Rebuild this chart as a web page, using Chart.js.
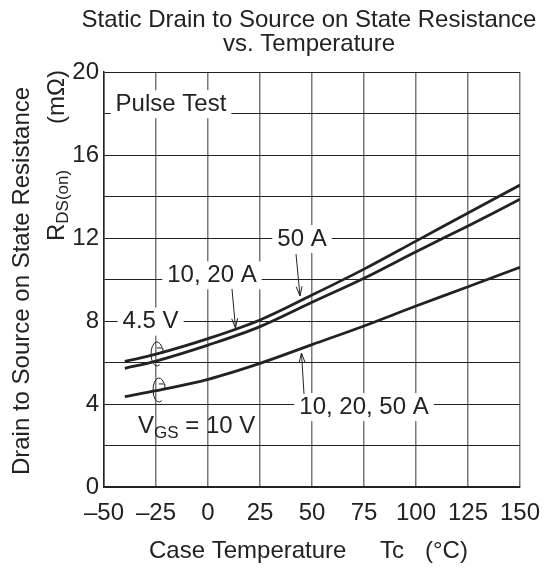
<!DOCTYPE html>
<html>
<head>
<meta charset="utf-8">
<script src="https://cdn.jsdelivr.net/npm/chart.js@4.4.0/dist/chart.umd.min.js"></script>
<style>
  html, body { margin: 0; padding: 0; background: #fff; }
  #wrap { width: 544px; height: 570px; }
</style>
</head>
<body>
<div id="wrap"><canvas id="rdsChart" width="544" height="570"></canvas></div>
<script>
// case temperature (°C) where values were read
var temps = [-40, -25, 0, 25, 50, 75, 100, 125, 150];
// RDS(on) in mOhm
var vgs45_50A = [6.05, 6.4, 7.15, 8.05, 9.25, 10.5, 11.85, 13.2, 14.55];
var vgs45_1020A = [5.72, 6.07, 6.84, 7.73, 8.9, 10.06, 11.34, 12.58, 13.87];
var vgs10_all = [4.35, 4.64, 5.19, 5.96, 6.86, 7.76, 8.72, 9.65, 10.59];

var xTicks = [-50, -25, 0, 25, 50, 75, 100, 125, 150];
var yTicks = [0, 4, 8, 12, 16, 20];

var FONT = '"Liberation Sans", Arial, sans-serif';
var INK = '#222';

function pts(ys) {
  return temps.map(function (t, i) { return { x: t, y: ys[i] }; });
}

function lineSet(ys) {
  return {
    data: pts(ys),
    borderColor: INK,
    borderWidth: 2.8,
    pointRadius: 0,
    fill: false,
    tension: 0.35
  };
}

// label with white box over the grid
function boxLabel(ctx, text, cx, cy) {
  ctx.font = '24px ' + FONT;
  var w = ctx.measureText(text).width;
  ctx.fillStyle = '#fff';
  ctx.fillRect(cx - w / 2 - 5, cy - 14, w + 10, 28);
  ctx.fillStyle = INK;
  ctx.textAlign = 'center';
  ctx.textBaseline = 'middle';
  ctx.fillText(text, cx, cy);
}

function arrow(ctx, x1, y1, x2, y2) {
  ctx.strokeStyle = INK;
  ctx.lineWidth = 1;
  ctx.beginPath();
  ctx.moveTo(x1, y1);
  ctx.lineTo(x2, y2);
  var a = Math.atan2(y2 - y1, x2 - x1);
  ctx.moveTo(x2 - 10 * Math.cos(a - 0.3), y2 - 10 * Math.sin(a - 0.3));
  ctx.lineTo(x2, y2);
  ctx.lineTo(x2 - 10 * Math.cos(a + 0.3), y2 - 10 * Math.sin(a + 0.3));
  ctx.stroke();
}

// little curled arrow round a pair of lines
function curl(ctx, cx, cy, rx, ry) {
  ctx.strokeStyle = INK;
  ctx.lineWidth = 1;
  ctx.beginPath();
  ctx.ellipse(cx, cy, rx, ry, 0, Math.PI * 0.35, Math.PI * 1.8);
  ctx.stroke();
  var tx = cx + rx * Math.cos(Math.PI * 1.8), ty = cy + ry * Math.sin(Math.PI * 1.8);
  ctx.beginPath();
  ctx.moveTo(tx - 5, ty + 1);
  ctx.lineTo(tx + 1, ty + 1);
  ctx.lineTo(tx + 1, ty + 7);
  ctx.stroke();
}

var textPlugin = {
  id: 'textPlugin',
  afterDraw: function (chart) {
    var ctx = chart.ctx;
    var xs = chart.scales.x, ys = chart.scales.y;
    ctx.save();

    // title
    ctx.fillStyle = INK;
    ctx.font = '24px ' + FONT;
    ctx.textAlign = 'center';
    ctx.textBaseline = 'middle';
    ctx.fillText('Static Drain to Source on State Resistance', 309, 20);
    ctx.fillText('vs. Temperature', 309, 44);

    // x axis title
    ctx.textAlign = 'left';
    ctx.fillText('Case Temperature', 149, 551);
    ctx.fillText('Tc', 380, 551);
    ctx.fillText('(\u00B0C)', 425, 551);

    // y axis titles
    ctx.save();
    ctx.translate(22, 281);
    ctx.rotate(-Math.PI / 2);
    ctx.textAlign = 'center';
    ctx.fillText('Drain to Source on State Resistance', 0, 0);
    ctx.restore();

    ctx.save();
    ctx.translate(57, 241);
    ctx.rotate(-Math.PI / 2);
    ctx.textAlign = 'left';
    ctx.font = '24px ' + FONT;
    ctx.fillText('R', 0, 0);
    var rw = ctx.measureText('R').width;
    ctx.font = '17px ' + FONT;
    ctx.fillText('DS(on)', rw, 6);
    ctx.font = '24px ' + FONT;
    ctx.textAlign = 'right';
    ctx.fillText('(m\u03A9)', 171, 0);
    ctx.restore();

    // annotations
    boxLabel(ctx, 'Pulse Test', xs.getPixelForValue(-17.8), ys.getPixelForValue(18.45));
    boxLabel(ctx, '50 A', xs.getPixelForValue(45.2), ys.getPixelForValue(11.95));
    boxLabel(ctx, '10, 20 A', xs.getPixelForValue(1.9), ys.getPixelForValue(10.2));
    boxLabel(ctx, '4.5 V', xs.getPixelForValue(-27.6), ys.getPixelForValue(7.97));
    boxLabel(ctx, '10, 20, 50 A', xs.getPixelForValue(75), ys.getPixelForValue(3.85));

    // VGS label
    ctx.fillStyle = INK;
    ctx.textAlign = 'left';
    ctx.textBaseline = 'middle';
    ctx.font = '24px ' + FONT;
    var vx = 138, vy = 426;
    ctx.fillText('V', vx, vy);
    var vw = ctx.measureText('V').width;
    ctx.font = '17px ' + FONT;
    ctx.fillText('GS', vx + vw, vy + 7);
    var gw = ctx.measureText('GS').width;
    ctx.font = '24px ' + FONT;
    ctx.fillText(' = 10 V', vx + vw + gw, vy);

    arrow(ctx, 296, 254, 300, 296);
    arrow(ctx, 232, 289, 235.5, 328);
    arrow(ctx, 304, 394, 301.5, 353);

    curl(ctx, 157, 354, 6, 12);
    curl(ctx, 159, 390, 6, 12);

    ctx.restore();
  }
};

new Chart(document.getElementById('rdsChart'), {
  type: 'line',
  data: {
    datasets: [lineSet(vgs45_50A), lineSet(vgs45_1020A), lineSet(vgs10_all)]
  },
  plugins: [textPlugin],
  options: {
    responsive: false,
    animation: false,
    layout: { padding: { top: 72, right: 24, left: 0, bottom: 0 } },
    plugins: { legend: { display: false }, title: { display: false }, tooltip: { enabled: false } },
    scales: {
      x: {
        type: 'linear',
        min: -50,
        max: 150,
        afterBuildTicks: function (s) { s.ticks = xTicks.map(function (v) { return { value: v }; }); },
        afterFit: function (s) { s.height = 83; s.paddingLeft = 0; s.paddingRight = 0; },
        ticks: {
          color: INK,
          font: { family: FONT, size: 24 },
          padding: 12,
          maxRotation: 0,
          callback: function (v) { return v < 0 ? '\u2013' + Math.abs(v) : '' + v; }
        },
        grid: { color: '#7a7a7a', lineWidth: 1.5, drawTicks: false },
        border: { color: INK, width: 1.5 }
      },
      y: {
        min: 0,
        max: 20,
        afterBuildTicks: function (s) {
          var t = [];
          for (var v = 0; v <= 20; v += 2) t.push({ value: v });
          s.ticks = t;
        },
        afterFit: function (s) { s.width = 104; s.paddingTop = 0; s.paddingBottom = 0; },
        ticks: {
          color: INK,
          font: { family: FONT, size: 24 },
          padding: 5,
          callback: function (v) { return yTicks.indexOf(v) >= 0 ? '' + v : ''; }
        },
        grid: { color: '#222', lineWidth: 1, drawTicks: false },
        border: { color: INK, width: 1.5 }
      }
    }
  }
});
</script>
</body>
</html>
